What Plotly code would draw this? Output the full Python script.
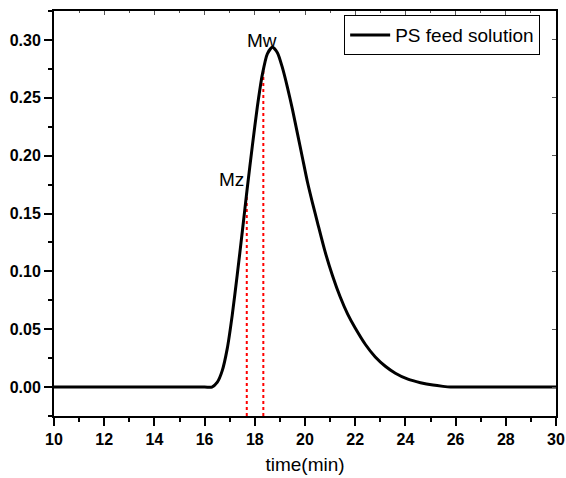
import plotly.graph_objects as go

# data
time_min = [10, 16.0, 16.29, 16.5, 16.7, 16.9, 17.1, 17.3, 17.5, 17.7, 17.9, 18.1, 18.3,
            18.5, 18.7, 18.9, 19.1, 19.3, 19.5, 19.7, 19.9, 20.1, 20.3, 20.5, 20.8, 21.1,
            21.4, 21.7, 22.0, 22.4, 22.8, 23.2, 23.6, 24.1, 24.6, 25.1, 25.5, 25.8, 26.1, 27, 30]
signal = [0, 0, 0, 0.004, 0.014, 0.033, 0.062, 0.097, 0.134, 0.172, 0.208, 0.242, 0.270,
          0.288, 0.2936, 0.289, 0.276, 0.259, 0.240, 0.219, 0.198, 0.177, 0.159, 0.142, 0.117, 0.096,
          0.078, 0.063, 0.051, 0.037, 0.026, 0.018, 0.012, 0.0068, 0.0038, 0.0017, 0.0006, 0, 0, 0, 0]
series_name = "PS feed solution"
marker_names = ["Mz", "Mw"]
marker_x = [17.68, 18.34]
marker_y = [0.168, 0.274]
label_x = [17.06, 18.29]
label_y = [0.1796, 0.2994]

x_range = [10, 30]
y_range = [-0.025, 0.325]

FONT = "Liberation Sans, Arial, sans-serif"

fig = go.Figure()

for mx, my in zip(marker_x, marker_y):
    fig.add_trace(go.Scatter(x=[mx, mx], y=[y_range[0], my], mode="lines",
                             line=dict(color="#ff0000", width=2, dash="dot"),
                             showlegend=False, hoverinfo="skip"))

fig.add_trace(go.Scatter(x=time_min, y=signal, mode="lines", name=series_name,
                         line=dict(color="black", width=3, shape="spline", smoothing=0.7)))

# invisible trace for mirrored inner-tick axes
fig.add_trace(go.Scatter(x=x_range, y=y_range, xaxis="x2", yaxis="y2", mode="markers",
                         marker=dict(opacity=0), showlegend=False, hoverinfo="skip"))

for name, lx, ly in zip(marker_names, label_x, label_y):
    fig.add_annotation(x=lx, y=ly, text=name, showarrow=False,
                       font=dict(family=FONT, size=19, color="black"))

fig.update_layout(
    width=566, height=478,
    margin=dict(l=53.5, r=9.5, t=10.7, b=62, autoexpand=False),
    paper_bgcolor="white", plot_bgcolor="white",
    showlegend=True,
    legend=dict(x=0.578, y=0.99, xanchor="left", yanchor="top",
                bordercolor="black", borderwidth=1, bgcolor="white",
                font=dict(family=FONT, size=19, color="black"),
                tracegroupgap=0, itemwidth=40),
    xaxis=dict(range=x_range, tickvals=list(range(10, 31, 2)), automargin=False,
               ticks="outside", ticklen=8, tickwidth=2, tickcolor="black",
               minor=dict(tickvals=list(range(11, 30, 2)), ticks="outside",
                          ticklen=4, tickwidth=2, tickcolor="black"),
               showline=True, linecolor="black", linewidth=2, showgrid=False, zeroline=False,
               tickfont=dict(family=FONT, size=16, color="black", weight="bold"),
               title=dict(text="time(min)", font=dict(family=FONT, size=19, color="black"),
                          standoff=10)),
    yaxis=dict(range=y_range, tickvals=[0, 0.05, 0.10, 0.15, 0.20, 0.25, 0.30],
               tickformat=".2f", automargin=False,
               ticks="outside", ticklen=8, tickwidth=2, tickcolor="black",
               minor=dict(tickvals=[-0.025, 0.025, 0.075, 0.125, 0.175, 0.225, 0.275, 0.325],
                          ticks="outside", ticklen=4, tickwidth=2, tickcolor="black"),
               showline=True, linecolor="black", linewidth=2, showgrid=False, zeroline=False,
               tickfont=dict(family=FONT, size=16, color="black", weight="bold")),
    xaxis2=dict(range=x_range, overlaying="x", side="top", tickvals=list(range(10, 31, 2)),
                ticks="inside", ticklen=4, tickwidth=1, tickcolor="#555", automargin=False,
                minor=dict(tickvals=list(range(11, 30, 2)), ticks="inside", ticklen=2,
                           tickwidth=1, tickcolor="#555"),
                showticklabels=False, showline=True, linecolor="black", linewidth=2,
                showgrid=False, zeroline=False, anchor="y2"),
    yaxis2=dict(range=y_range, overlaying="y", side="right", automargin=False,
                tickvals=[0, 0.05, 0.10, 0.15, 0.20, 0.25, 0.30],
                ticks="inside", ticklen=4, tickwidth=1, tickcolor="#555",
                showticklabels=False, showline=True, linecolor="black", linewidth=2,
                showgrid=False, zeroline=False, anchor="x2"),
)

fig.write_html("out.html")
